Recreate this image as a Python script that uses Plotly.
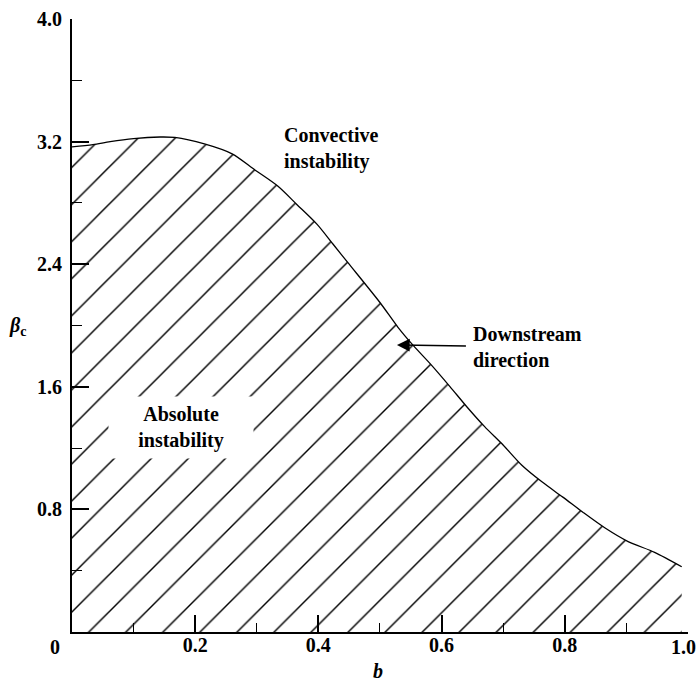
import plotly.graph_objects as go

# Boundary between absolute and convective instability: beta_c(b)
b_vals = [0.0, 0.034, 0.062, 0.10, 0.143, 0.167, 0.215, 0.26, 0.297, 0.334,
          0.365, 0.398, 0.424, 0.448, 0.50, 0.529, 0.554, 0.584, 0.614, 0.641,
          0.670, 0.70, 0.73, 0.763, 0.797, 0.83, 0.865, 0.903, 0.946, 0.99]
beta_vals = [3.165, 3.18, 3.20, 3.22, 3.23, 3.227, 3.185, 3.12, 3.015, 2.91,
             2.79, 2.66, 2.53, 2.41, 2.15, 1.99, 1.87, 1.74, 1.60, 1.47,
             1.34, 1.22, 1.09, 0.98, 0.88, 0.78, 0.68, 0.59, 0.52, 0.426]

x_ticks = [0.2, 0.4, 0.6, 0.8, 1.0]
x_tick_text = ["0.2", "0.4", "0.6", "0.8", "1.0"]
y_ticks = [0.8, 1.6, 2.4, 3.2, 4.0]
y_tick_text = ["0.8", "1.6", "2.4", "3.2", "4.0"]

region_labels = ["Convective<br>instability", "Absolute<br>instability"]
arrow_label = "Downstream<br>direction"
arrow_tip = (0.5276, 1.873)

SERIF = "Liberation Serif, Times New Roman, serif"
label_font = dict(family=SERIF, size=20, color="black", weight="bold")

fig = go.Figure()

# hatched region of absolute instability under the curve
fig.add_trace(go.Scatter(
    x=b_vals, y=beta_vals,
    mode="lines",
    line=dict(color="black", width=1.3, shape="spline", smoothing=0.8),
    fill="tozeroy",
    fillcolor="rgba(0,0,0,0)",
    fillpattern=dict(shape="/", size=26.2, solidity=0.055,
                     fgcolor="black", bgcolor="white", fillmode="replace"),
    hoverinfo="skip",
    showlegend=False,
))

axis_common = dict(
    showline=True, linecolor="black", linewidth=1.8,
    showgrid=False, zeroline=False, automargin=False,
    ticks="inside", tickcolor="black", tickwidth=1.5, ticklen=17,
    tickmode="array",
    tickfont=label_font,
)

# the last x label sits against the page edge, so it is placed separately
fig.update_xaxes(
    range=[0, 1.0002], tickvals=x_ticks,
    ticktext=x_tick_text[:-1] + [""],
    minor=dict(tickmode="linear", tick0=0, dtick=0.1, ticks="inside",
               ticklen=9, tickwidth=1.3, tickcolor="black"),
    ticklabelstandoff=-6,
    **axis_common,
)
fig.update_yaxes(
    range=[0, 4.0], tickvals=y_ticks, ticktext=y_tick_text,
    minor=dict(tickmode="linear", tick0=0, dtick=0.4, ticks="inside",
               ticklen=10, tickwidth=1.3, tickcolor="black"),
    ticklabelstandoff=4,
    **axis_common,
)

annotations = [
    # shared origin label
    dict(text="0", x=-0.0276, y=-0.025, xref="paper", yref="paper",
         xanchor="center", yanchor="middle", showarrow=False, font=label_font),
    dict(text=x_tick_text[-1], x=1.0146, y=-0.025, xref="paper", yref="paper",
         xanchor="right", yanchor="middle", showarrow=False, font=label_font,
         borderpad=0),
    # axis labels
    dict(text="<i>b</i>", x=0.4968, y=-0.0636, xref="paper", yref="paper",
         xanchor="center", yanchor="middle", showarrow=False, font=label_font),
    dict(text="<i>β</i><sub>c</sub>", x=-0.0885, y=0.499, xref="paper",
         yref="paper", xanchor="center", yanchor="middle", showarrow=False,
         font=label_font),
    dict(text=region_labels[0], x=0.341, y=3.158, xref="x", yref="y",
         xanchor="left", yanchor="middle", align="left", showarrow=False,
         font=label_font),
    dict(text=region_labels[1], x=0.177, y=1.334, xref="x", yref="y",
         xanchor="center", yanchor="middle", align="center", showarrow=False,
         bgcolor="white", width=140, height=57, borderpad=2,
         font=label_font),
    # label with its arrow pointing back upstream onto the boundary
    dict(text=arrow_label, x=arrow_tip[0], y=arrow_tip[1], xref="x", yref="y",
         ax=131, ay=2, axref="pixel", ayref="pixel",
         align="left", borderpad=7,
         showarrow=True, arrowhead=2, arrowsize=1.7, arrowwidth=1.5,
         arrowcolor="black", font=label_font),
]

fig.update_layout(
    width=698, height=681,
    margin=dict(l=72, r=10, t=19, b=49),
    paper_bgcolor="white", plot_bgcolor="white",
    annotations=annotations,
    showlegend=False,
)

fig.write_html("out.html")
